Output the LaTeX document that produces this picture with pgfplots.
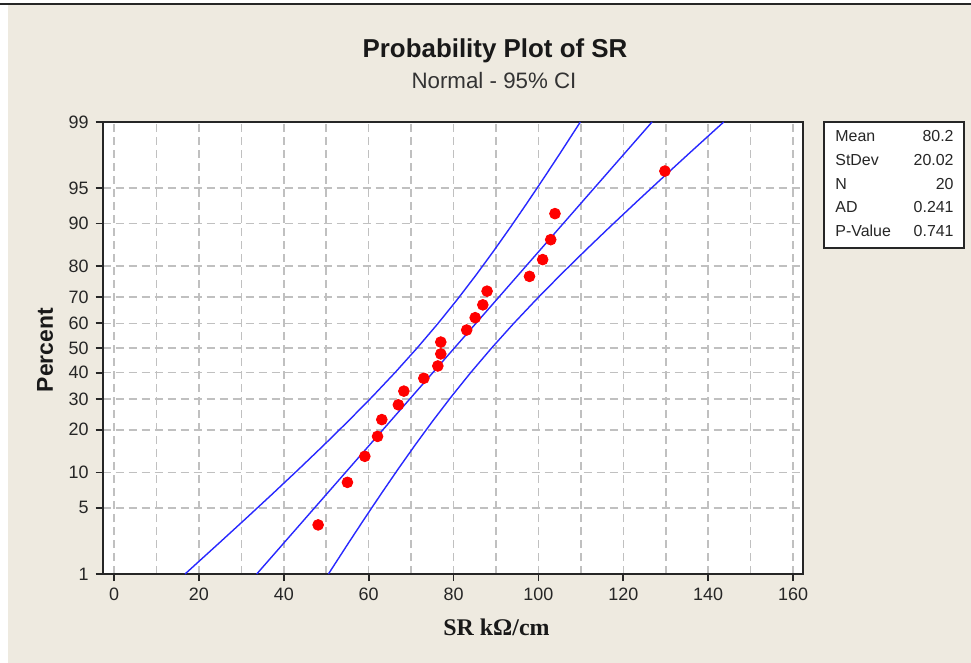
\documentclass[border=0pt]{standalone}
\usepackage{pgfplots}
\pgfplotsset{compat=1.18}
\usepackage{fontspec}
\setmainfont{Liberation Sans}
\newfontfamily\timesfont{Liberation Serif}

\definecolor{bgbeige}{RGB}{238,234,224}
\definecolor{gridgray}{RGB}{192,192,192}
\definecolor{ciblue}{RGB}{40,40,255}

% SR values (sorted) against normal scores of median ranks (i-0.3)/(n+0.4)
\pgfplotstableread{
x      z
48.1  -1.821
55.0  -1.383
59.1  -1.115
62.1  -0.910
63.1  -0.737
67.0  -0.585
68.3  -0.444
73.0  -0.312
76.3  -0.185
77.0  -0.061
77.0   0.061
83.1   0.185
85.1   0.312
86.9   0.444
87.9   0.585
97.9   0.737
101.0  0.910
102.9  1.115
103.9  1.383
129.8  1.821
}\srdata

\begin{document}
\begin{tikzpicture}
% page background (1 px = 0.5 bp, axis corner at px (102.7,574))
\fill[white] (-51.35bp,-44.5bp) rectangle (434.15bp,287bp);
\fill[bgbeige] (-47.35bp,-44.5bp) rectangle (434.15bp,284.6bp);
\fill[black!85] (-51.35bp,284.6bp) rectangle (434.15bp,285.6bp);

\begin{axis}[
    at={(0,0)}, anchor=south west,
    width=350bp, height=226bp, scale only axis,
    xmin=-2.66, xmax=162.27,
    ymin=-2.3263, ymax=2.3263,
    axis background/.style={fill=white},
    axis line style={black!85, line width=1bp},
    xtick={0,20,...,160},
    minor xtick={10,30,...,150},
    ytick={-2.3263,-1.6449,-1.2816,-0.8416,-0.5244,-0.2533,0,0.2533,0.5244,0.8416,1.2816,1.6449,2.3263},
    yticklabels={1,5,10,20,30,40,50,60,70,80,90,95,99},
    xtick pos=left, ytick pos=left, tick align=outside,
    major tick length=3.5bp, minor tick length=0pt,
    tick style={black!85, line width=0.9bp},
    grid=both,
    major grid style={gridgray, dash pattern=on 4bp off 2.5bp, line width=0.8bp},
    minor grid style={gridgray, dash pattern=on 4bp off 2.5bp, line width=0.8bp},
    ticklabel style={font=\fontsize{9}{10}\selectfont, text=black!85},
    /pgf/number format/assume math mode=true,
    clip=true,
]
% fitted line
\addplot[ciblue, line width=0.7bp] coordinates {(33.633,-2.3263) (126.767,2.3263)};
% 95% CI bounds
\addplot[ciblue, line width=0.7bp] coordinates {
  (16.744,-2.3263) (24.963,-2) (31.205,-1.75) (37.380,-1.5) (43.465,-1.25)
  (49.434,-1) (55.253,-0.75) (60.884,-0.5) (66.285,-0.25) (71.426,0)
  (76.295,0.25) (80.904,0.5) (85.283,0.75) (89.474,1) (93.515,1.25)
  (97.440,1.5) (101.275,1.75) (105.043,2) (109.878,2.3263)};
\addplot[ciblue, line width=0.7bp] coordinates {
  (50.522,-2.3263) (55.357,-2) (59.125,-1.75) (62.960,-1.5) (66.885,-1.25)
  (70.926,-1) (75.117,-0.75) (79.496,-0.5) (84.105,-0.25) (88.974,0)
  (94.115,0.25) (99.516,0.5) (105.147,0.75) (110.966,1) (116.935,1.25)
  (123.020,1.5) (129.195,1.75) (135.437,2) (143.656,2.3263)};
% data
\addplot[only marks, mark=*, mark size=2.7bp, red, mark options={fill=red, draw=red}] table[x=x, y=z] {\srdata};
\end{axis}

% titles and axis labels
\node[anchor=base, font=\bfseries\fontsize{13}{15}\selectfont, text=black!90] at (196.15bp,258.35bp) {Probability Plot of SR};
\node[anchor=base, font=\fontsize{11.2}{13}\selectfont, text=black!80] at (195.65bp,242.85bp) {Normal - 95\% CI};
\node[anchor=base, font=\timesfont\bfseries\fontsize{12}{14}\selectfont, text=black!90] at (196.9bp,-30.5bp) {SR kΩ/cm};
\node[rotate=90, font=\bfseries\fontsize{11.5}{13}\selectfont, text=black!90] at (-28.85bp,112bp) {Percent};

% statistics box
\draw[black!85, line width=0.9bp, fill=white] (360.8bp,162.85bp) rectangle (430.65bp,225.85bp);
\begin{scope}[every node/.style={inner sep=0pt, font=\fontsize{8}{9}\selectfont, text=black!85}]
\node[anchor=west] at (366.15bp,219bp) {Mean};
\node[anchor=west] at (366.15bp,207bp) {StDev};
\node[anchor=west] at (366.15bp,195bp) {N};
\node[anchor=west] at (366.15bp,183.25bp) {AD};
\node[anchor=west] at (366.15bp,171.5bp) {P-Value};
\node[anchor=east] at (425.65bp,219bp) {80.2};
\node[anchor=east] at (425.65bp,207bp) {20.02};
\node[anchor=east] at (425.65bp,195bp) {20};
\node[anchor=east] at (425.65bp,183.25bp) {0.241};
\node[anchor=east] at (425.65bp,171.5bp) {0.741};
\end{scope}
\end{tikzpicture}
\end{document}
